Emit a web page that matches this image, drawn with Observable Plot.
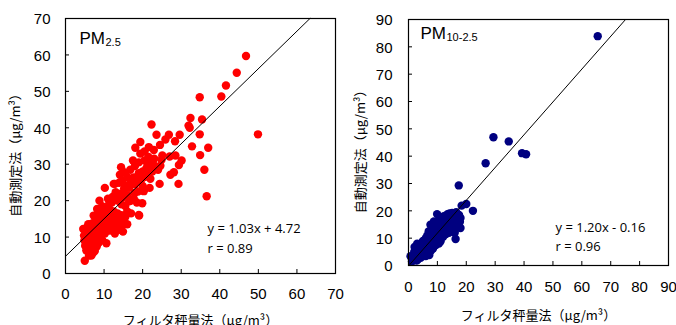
<!DOCTYPE html>
<html>
<head>
<meta charset="utf-8">
<script src="https://cdn.jsdelivr.net/npm/d3@7"></script>
<script src="https://cdn.jsdelivr.net/npm/@observablehq/plot@0.6"></script>
<style>
  html, body { margin: 0; padding: 0; background: #fff; }
  #wrap { position: relative; width: 676px; height: 325px; overflow: hidden; }
  #left, #right { position: absolute; top: 0; }
  #left { left: 0; }
  #right { left: 340px; }
  svg { overflow: visible; }
</style>
</head>
<body>
<div id="wrap"><div id="left"></div><div id="right"></div></div>
<script>
// ---------- PM2.5 (filter vs automatic), µg/m3 ----------
const pm25Filter = [
  5.0,6.1,6.7,7.1,5.4,6.4,7.6,5.1,6.0,7.2,8.1,4.9,6.3,7.8,8.6,4.8,5.8,6.8,7.6,8.8,9.5,4.6,5.5,6.2,7.0,8.2,9.0,5.9,6.8,7.5,8.5,7.3,8.0,8.2,8.8,9.0,9.2,5.3,6.0,7.4,8.4,9.6,5.6,6.6,7.9,8.9,
  9.5,10.0,10.5,10.6,10.2,11.0,11.5,12.0,12.5,13.5,14.9,14.5,10.0,11.0,12.0,13.0,14.0,15.0,16.0,9.5,10.5,11.5,12.5,13.5,14.5,16.0,17.0,19.0,10.2,11.0,12.0,13.0,13.5,14.5,15.5,12.5,13.5,14.5,15.0,16.0,17.0,17.7,18.5,19.9,19.1,17.9,20.3,11.8,12.8,13.8,15.5,10.8,9.8,11.3,12.2,16.5,15.2,16.3,14.7,
  14.1,14.4,13.9,12.8,15.5,16.5,17.0,18.0,16.8,17.7,18.5,19.0,19.5,20.0,20.5,21.0,21.5,22.0,22.5,23.1,24.0,18.1,19.4,19.4,20.5,21.6,22.3,22.9,23.6,24.5,25.1,24.9,20.5,21.5,19.0,18.0,17.5,24.4,24.6,23.0,21.0,22.0,18.8,20.0,21.8,16.0,15.2,
  25.9,26.8,28.4,29.6,27.0,28.5,29.4,30.1,28.1,27.2,29.3,31.9,32.2,32.4,34.8,32.8,34.9,35.4,34.8,36.0,36.6,37.0,40.4,41.6,44.4,46.8,49.9
];
const pm25Auto = [
  3.5,4.9,4.9,5.6,6.3,6.9,6.2,7.6,8.3,8.0,7.4,9.1,9.4,9.0,8.4,10.4,10.7,10.5,11.0,10.1,9.2,12.2,12.6,11.9,12.8,12.1,11.6,13.5,13.7,14.1,13.4,15.9,15.2,17.7,20.0,16.4,14.6,11.3,7.2,9.9,11.2,12.4,9.6,12.2,12.9,13.2,
  13.0,14.5,12.5,8.3,11.0,14.0,11.8,12.5,13.8,13.0,11.5,12.8,16.8,16.0,15.5,15.0,14.5,14.0,13.5,18.5,18.0,17.5,17.0,16.5,16.0,17.0,16.5,16.1,23.5,20.5,19.5,22.3,20.0,19.0,18.5,24.6,21.5,22.0,21.0,21.5,20.0,20.5,19.5,19.3,15.9,22.1,22.6,13.0,11.0,12.0,15.5,15.3,15.8,19.0,21.0,19.8,23.3,24.3,25.5,
  27.1,29.2,24.9,24.6,24.0,23.5,25.0,24.5,28.5,26.4,26.0,27.5,25.5,28.0,26.5,29.0,27.5,30.0,28.0,29.6,28.5,34.5,36.1,32.9,33.5,34.7,40.9,33.9,38.1,35.3,32.4,31.2,31.0,32.0,30.5,29.5,31.0,24.6,29.6,31.5,30.8,26.0,22.5,24.0,23.5,26.5,27.8,
  36.8,38.1,36.3,38.1,32.1,32.4,29.8,31.0,27.8,27.1,24.6,40.6,40.0,42.7,38.2,34.9,32.5,42.3,48.4,28.5,21.2,34.5,48.6,51.6,55.1,59.7,38.2
];
// ---------- PM10-2.5 ----------
const pmcFilter = [
  65.5,29.4,34.7,39.3,40.7,26.7,17.4,20.0,18.4,22.3,16.3,9.9,0.7,2.1,2.8,
  15.1,16.8,18.0,17.4,18.0,12.2,13.4,11.1,14.5,12.8,15.7,8.8,7.6,9.3,10.5,11.7,7.0,8.2,9.9,11.1,
  1.5,2.5,3.0,3.5,4.0,4.5,5.0,5.5,6.0,6.5,7.0,7.5,8.0,8.5,9.0,3.2,4.2,5.2,6.2,7.2,7.8,8.5,9.5,10.5,4.0,3.0,5.0,6.0,6.5,7.8,8.8,9.6,10.2,10.8,11.5,12.2,12.5,13.0,13.8,14.2,14.8,15.5,16.2,16.8,17.5,13.5,11.8,10.5,9.0,6.8,5.8,4.8,3.8,2.2,1.2,2.0,11.0,12.0,13.2,14.0,15.0,16.0,17.0,10.0,8.0,7.2,6.0,4.5,9.8,11.2,12.8,14.2,15.8,16.5,17.8,10.3,8.6,5.5
];
const pmcAuto = [
  83.9,46.9,45.4,41.1,40.7,37.4,29.3,22.5,21.9,20.0,9.7,18.8,3.4,6.8,1.8,
  19.2,18.6,17.4,15.6,13.7,18.0,16.8,16.1,14.3,13.7,12.5,16.1,14.9,13.7,12.5,11.3,12.5,11.3,10.1,8.9,
  3.0,4.5,3.0,5.0,4.0,6.0,5.0,7.0,6.0,8.0,7.0,9.0,8.0,10.0,9.0,2.2,2.8,3.5,4.2,3.8,5.5,6.2,7.5,8.0,7.5,8.0,9.0,10.0,11.0,12.8,14.0,15.2,16.2,14.0,13.2,12.0,15.0,11.5,13.0,16.0,17.5,16.0,14.5,16.5,18.5,18.8,17.5,10.5,12.0,5.5,8.0,4.8,6.0,2.5,1.5,5.0,12.0,10.5,14.0,12.0,13.0,12.0,14.0,13.0,9.5,10.0,3.5,8.0,11.2,15.0,16.5,19.0,17.8,19.5,16.0,9.0,7.2,5.8
];

const panels = [
  {id: "left", name: "PM", sub: "2.5", filter: pm25Filter, auto: pm25Auto, slope: 1.03, intercept: 4.72,
   eq: "y = 1.03x + 4.72", r: "r = 0.89", max: 70, color: "#ff0000"},
  {id: "right", name: "PM", sub: "10-2.5", filter: pmcFilter, auto: pmcAuto, slope: 1.20, intercept: -0.16,
   eq: "y = 1.20x - 0.16", r: "r = 0.96", max: 90, color: "#000080"}
];
const xTitle = "フィルタ秤量法（μg/m³）";
const yTitle = "自動測定法（μg/m³）";

const layout = {
  left:  {width: 340, height: 325, ml: 65, mr: 5, mt: 18, mb: 52, pad: 15, xpad: 15,
          subDx: 40, pmDx: 14, pmDy: 20, subDy: 23.5, eqDx: 142, eqDy: 210, rDy: 230, xtDy: 47, ytDx: -50, ytDy: 6},
  right: {width: 336, height: 325, ml: 68, mr: 8, mt: 19, mb: 60, pad: 16, xpad: 16,
          subDx: 38, pmDx: 12, pmDy: 14, subDy: 18, eqDx: 147, eqDy: 208, rDy: 227, xtDy: 50, ytDx: -48, ytDy: 6}
};

for (const p of panels) {
  const L = layout[p.id];
  const data = p.filter.map((x, i) => ({x, y: p.auto[i]}));
  const ticks = d3.range(0, p.max + 1, 10);
  const x0 = Math.max(0, (0 - p.intercept) / p.slope);
  const x1 = Math.min(p.max, (p.max - p.intercept) / p.slope);
  const fit = [x0, x1].map(x => ({x, y: p.slope * x + p.intercept}));
  const pw = L.width - L.ml - L.mr, ph = L.height - L.mt - L.mb;
  const jp = "'Noto Sans CJK JP', sans-serif";
  const chart = Plot.plot({
    width: L.width, height: L.height,
    marginLeft: L.ml, marginRight: L.mr, marginTop: L.mt, marginBottom: L.mb,
    style: {fontFamily: "'Liberation Sans', Arial, sans-serif", fontSize: "15px", color: "#000", background: "transparent", overflow: "visible"},
    x: {domain: [0, p.max]},
    y: {domain: [0, p.max]},
    marks: [
      Plot.axisX({ticks, tickSize: 0, tickPadding: L.xpad, label: null, fontSize: 15}),
      Plot.axisY({ticks, tickSize: 0, tickPadding: L.pad, label: null, fontSize: 15, dy: 1}),
      Plot.tickX(ticks, {x: d => d, insetTop: ph - 4, stroke: "#000"}),
      Plot.tickY(ticks, {y: d => d, insetRight: pw - 4, stroke: "#000"}),
      Plot.dot(data, {x: "x", y: "y", r: 4.2, fill: p.color, stroke: "none"}),
      Plot.line(fit, {x: "x", y: "y", stroke: "#000", strokeWidth: 1}),
      Plot.frame({stroke: "#000", strokeWidth: 1.2}),
      Plot.text([p.name], {frameAnchor: "top-left", textAnchor: "start", lineAnchor: "middle", dx: L.pmDx, dy: L.pmDy, fontSize: 17, fill: "#000"}),
      Plot.text([p.sub], {frameAnchor: "top-left", textAnchor: "start", lineAnchor: "middle", dx: L.subDx, dy: L.subDy, fontSize: 11, fill: "#000"}),
      Plot.text([p.eq], {frameAnchor: "top-left", textAnchor: "start", lineAnchor: "middle", dx: L.eqDx, dy: L.eqDy, fontSize: 13, fontFamily: "'Open Sans', sans-serif", fill: "#000"}),
      Plot.text([p.r], {frameAnchor: "top-left", textAnchor: "start", lineAnchor: "middle", dx: L.eqDx, dy: L.rDy, fontSize: 13, fontFamily: "'Open Sans', sans-serif", fill: "#000"}),
      Plot.text([xTitle], {frameAnchor: "bottom", textAnchor: "middle", lineAnchor: "middle", dy: L.xtDy, fontSize: 13, fontFamily: jp, fill: "#000"}),
      Plot.text([yTitle], {frameAnchor: "left", textAnchor: "middle", lineAnchor: "middle", rotate: -90, dx: L.ytDx, dy: L.ytDy, fontSize: 13, fontFamily: jp, fill: "#000"})
    ]
  });
  document.getElementById(p.id).appendChild(chart);
}
</script>
</body>
</html>
